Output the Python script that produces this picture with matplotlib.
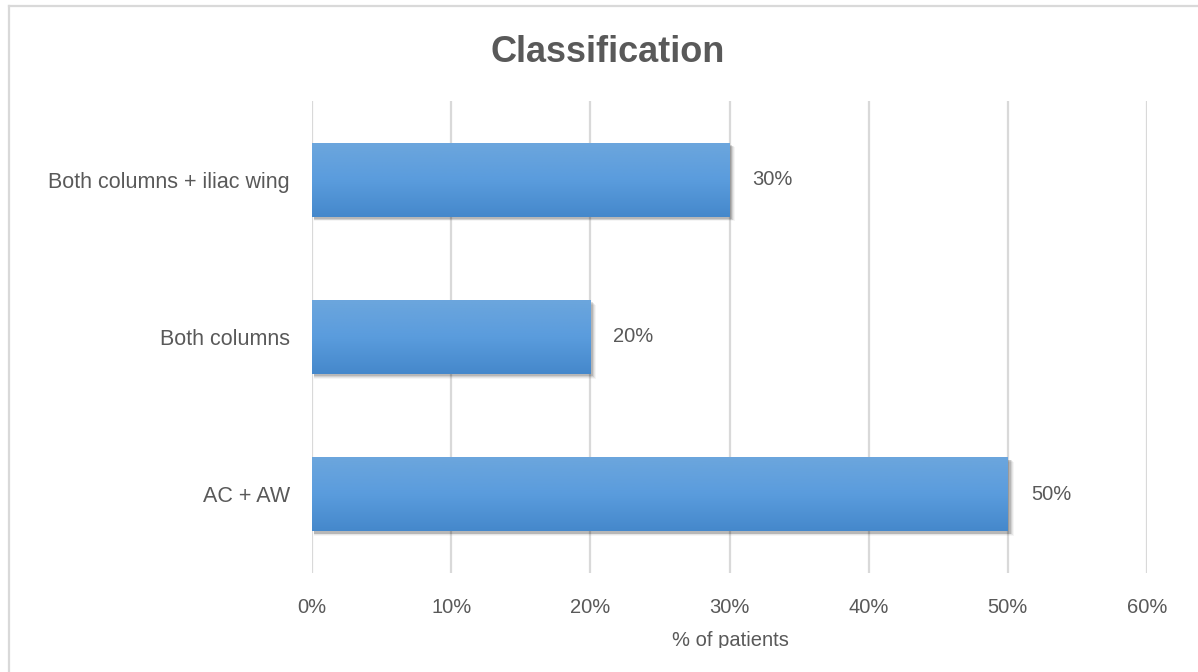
import numpy as np
import matplotlib.pyplot as plt
from matplotlib.colors import LinearSegmentedColormap
from matplotlib.lines import Line2D
from matplotlib.patches import Rectangle
from matplotlib.transforms import Bbox, TransformedBbox

plt.rcParams['font.family'] = ['Liberation Sans', 'DejaVu Sans']

# ==============================
# Datos
# ==============================
categories = ["AC + AW", "Both columns", "Both columns + iliac wing"]
values = [50, 20, 30]
xticks = [0, 10, 20, 30, 40, 50, 60]
title = "Classification"
xlabel = "% of patients"

text_color = "#595959"
grid_color = "#d9d9d9"
bar_cmap = LinearSegmentedColormap.from_list("bar", ["#6ca6dd", "#5a9cdd", "#4588cb"])

W, H = 1198, 672
fig = plt.figure(figsize=(W / 100, H / 100), dpi=100)
ax = fig.add_axes([312 / W, (H - 573) / H, (1147 - 312) / W, (573 - 101) / H])

bar_h = 0.47
ypos = np.arange(len(categories))
grad = np.linspace(0, 1, 256).reshape(-1, 1)

for y, v in zip(ypos, values):
    # sombra suave
    for k, a in enumerate([0.12, 0.09, 0.06, 0.04]):
        ax.add_patch(Rectangle((0.15, y - bar_h / 2 - 0.014 - 0.005 * k), v + 0.05 + 0.07 * k, bar_h,
                               facecolor="black", alpha=a, edgecolor="none", zorder=2))
    ax.imshow(grad, cmap=bar_cmap, aspect="auto", origin="upper",
              extent=[0, v, y - bar_h / 2, y + bar_h / 2], zorder=3)
    ax.text(v + 1.65, y, f"{v}%", va="center", ha="left", fontsize=14.5, color=text_color)

ax.set_xlim(0, 60)
ax.set_ylim(-0.5, 2.5)
ax.set_xticks(xticks)
ax.set_xticklabels([f"{t}%" for t in xticks])
ax.set_yticks(ypos)
ax.set_yticklabels(categories)
ax.tick_params(axis="both", length=0, labelcolor=text_color)
ax.tick_params(axis="x", pad=18, labelsize=14.5)
ax.tick_params(axis="y", pad=16, labelsize=15.5)
ax.grid(axis="x", color=grid_color, linewidth=1.6)
ax.set_axisbelow(True)
for s in ax.spines.values():
    s.set_visible(False)

fig.text(608 / W, 1 - 52 / H, title, ha="center", va="center", fontsize=26,
         fontweight="bold", color=text_color)

xl = fig.text(730 / W, 1 - 640 / H, xlabel, ha="center", va="center", fontsize=14.5, color=text_color)
xl.set_clip_box(TransformedBbox(Bbox([[0, (H - 648) / H], [1, 1]]), fig.transFigure))
xl.set_clip_on(True)

# borde del gráfico
fig.add_artist(Line2D([9 / W, 1], [1 - 6 / H, 1 - 6 / H], color=grid_color, linewidth=1.6,
                      transform=fig.transFigure))
fig.add_artist(Line2D([9 / W, 9 / W], [0, 1 - 6 / H], color=grid_color, linewidth=1.6,
                      transform=fig.transFigure))

fig.savefig("out.png", dpi=100)
